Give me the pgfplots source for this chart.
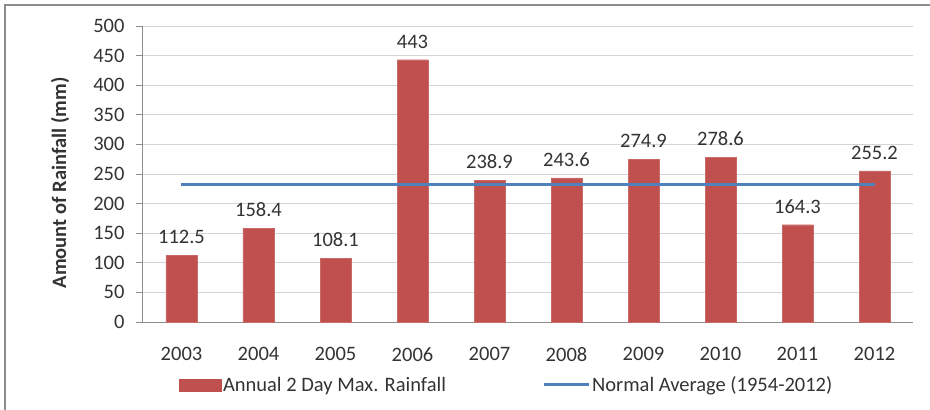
\documentclass[border=0pt]{standalone}
\usepackage{pgfplots}
\pgfplotsset{compat=1.18}
\usepackage{fontspec}
\setmainfont{Carlito}
\definecolor{barred}{HTML}{C0504D}
\definecolor{lineblue}{HTML}{4F81BD}
\definecolor{gridgray}{HTML}{D4D4D4}
\definecolor{axgray}{HTML}{8C8C8C}
\definecolor{txt}{HTML}{333333}
\begin{document}
\begin{tikzpicture}[font=\fontsize{20.5}{24}\selectfont]
\path[use as bounding box] (-143pt,-88pt) rectangle (787pt,322pt);
\begin{axis}[
  at={(0pt,0pt)}, anchor=south west,
  scale only axis, width=770pt, height=296pt,
  xmin=-0.5, xmax=9.5, ymin=0, ymax=500,
  ytick={0,50,...,500},
  xtick={0,...,9},
  xticklabels={2003,2004,2005,2006,2007,2008,2009,2010,2011,2012},
  minor xtick={-0.5,0.5,...,9.5},
  axis x line*=bottom, axis y line*=left,
  axis line style={axgray, line width=1pt},
  ymajorgrids, grid style={gridgray, line width=1pt},
  xtick style={draw=none},
  minor x tick style={axgray, line width=1pt},
  minor tick length=6pt,
  ytick style={axgray, line width=1pt},
  major tick length=7pt,
  tick align=outside,
  /pgf/number format/assume math mode=true,
  tick label style={txt},
  yticklabel style={xshift=-8pt},
  xticklabel style={yshift=-15pt},
  ylabel={\bfseries Amount of Rainfall (mm)},
  ylabel style={at={([xshift=-83pt]rel axis cs:0,0.47)}, anchor=center, rotate=0, txt},
  legend columns=2,
  legend style={draw=none, fill=none, at={(axis description cs:0.472,-0.212)}, anchor=center,
    nodes={inner sep=2pt, txt},
    /tikz/every even column/.append style={column sep=94pt}},
  legend cell align=left,
  clip=false,
]
\addplot[ybar, bar width=31pt, fill=barred, draw=barred!85!white,
  nodes near coords,
  every node near coord/.append style={txt, anchor=south, yshift=8pt},
  legend image code/.code={\fill[barred] (0pt,-6pt) rectangle (42pt,6pt);}]
  coordinates {(0,112.5) (1,158.4) (2,108.1) (3,443) (4,238.9) (5,243.6) (6,274.9) (7,278.6) (8,164.3) (9,255.2)};
\addlegendentry{Annual 2 Day Max. Rainfall}
\addplot[lineblue, line width=3pt, mark=none,
  legend image code/.code={\draw[lineblue, line width=3pt] (0pt,0pt) -- (45pt,0pt);}]
  coordinates {(0,232) (9,232)};
\addlegendentry{Normal Average (1954-2012)}
\end{axis}
\draw[axgray, line width=1.2pt] (-138pt,-88pt) -- (-138pt,317pt) -- (787pt,317pt);
\end{tikzpicture}
\end{document}
